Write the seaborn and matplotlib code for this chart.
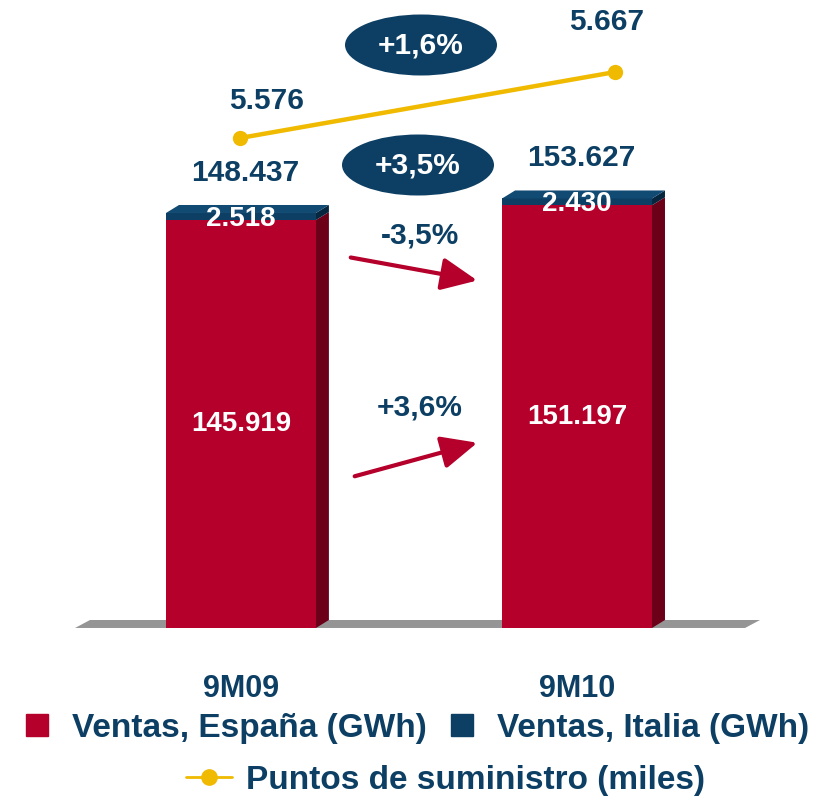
import matplotlib.pyplot as plt
import pandas as pd
import seaborn as sns
from matplotlib.lines import Line2D
from matplotlib.patches import Ellipse, FancyArrowPatch, Polygon

# datos
periodos = ["9M09", "9M10"]
ventas_espana = [145919, 151197]
ventas_italia = [2518, 2430]
ventas_total = [148437, 153627]
puntos_suministro = [5576, 5667]
var_total = "+3,5%"
var_puntos = "+1,6%"
var_italia = "-3,5%"
var_espana = "+3,6%"

ROJO = "#B4002A"
ROJO_OSC = "#6C0018"
AZUL = "#0C3F63"
AZUL_OSC = "#05263E"
AMARILLO = "#F0BA00"
GRIS = "#959595"

W, H = 818, 801

sns.set_style("white")
plt.rcParams["font.family"] = ["Liberation Sans", "DejaVu Sans"]
plt.rcParams["font.weight"] = "bold"


def fpx(x, y):
    """Pixel de la figura -> fraccion de la figura."""
    return x / W, 1 - y / H


def fmt(v):
    return f"{v:,}".replace(",", ".")


df = pd.DataFrame({
    "periodo": periodos,
    "espana": ventas_espana,
    "total": ventas_total,
    "puntos": puntos_suministro,
})

fig = plt.figure(figsize=(W / 100, H / 100), dpi=100)
rect = [0, 173 / H, 1, 600 / H]

# --- barras (GWh) ---
ax = fig.add_axes(rect)
ancho = 0.446
sns.barplot(data=df, x="periodo", y="total", color=AZUL, width=ancho,
            saturation=1, ax=ax, zorder=3, linewidth=0, edgecolor="none")
sns.barplot(data=df, x="periodo", y="espana", color=ROJO, width=ancho,
            saturation=1, ax=ax, zorder=3, linewidth=0, edgecolor="none")
ax.set_xlim(-0.717, 1.717)
ax.set_ylim(0, 214600)
ax.set_xlabel("")
ax.set_ylabel("")
ax.set_yticks([])
ax.set_xticks([0, 1])
ax.set_xticklabels(periodos, fontsize=22, fontweight="bold", color=AZUL)
ax.tick_params(axis="x", length=0, pad=33)
sns.despine(ax=ax, left=True, bottom=True)
ax.patch.set_alpha(0)

# profundidad 3D en unidades de datos
px_x = W / (1.717 + 0.717)
px_y = 600 / 214600
dx, dy = 13 / px_x, 8 / px_y

# suelo
x0, x1 = ax.get_xlim()
fx0, fx1 = x0 + 75 / px_x, x1 - 73 / px_x
ax.add_patch(Polygon(
    [(fx0, 0), (fx1, 0), (fx1 + 15 / px_x, dy), (fx0 + 15 / px_x, dy)],
    closed=True, fc=GRIS, ec="none", zorder=1))
ax.plot([fx0, fx1], [-1.2 / px_y] * 2, color="#D5D5D5", lw=1.5, zorder=1)

for i, (esp, tot) in enumerate(zip(ventas_espana, ventas_total)):
    bx0, bx1 = i - ancho / 2, i + ancho / 2
    # lateral rojo
    ax.add_patch(Polygon([(bx1, 0), (bx1 + dx, dy), (bx1 + dx, esp + dy),
                          (bx1, esp)], fc=ROJO_OSC, ec="none", zorder=2))
    # lateral azul
    ax.add_patch(Polygon([(bx1, esp), (bx1 + dx, esp + dy),
                          (bx1 + dx, tot + dy), (bx1, tot)],
                         fc=AZUL_OSC, ec="none", zorder=2))
    # tapa
    ax.add_patch(Polygon([(bx0, tot), (bx0 + dx, tot + dy),
                          (bx1 + dx, tot + dy), (bx1, tot)],
                         fc="#114A72", ec="none", zorder=4))
    ax.annotate(fmt(tot), (i, tot), xytext=(3, 29), textcoords="offset points",
                ha="center", va="center", fontsize=21.5, color=AZUL,
                fontweight="bold", zorder=5)
    ax.annotate(fmt(ventas_italia[i]), (i, tot), xytext=(0, -4),
                textcoords="offset points", ha="center", va="center",
                fontsize=20, color="white", fontweight="bold", zorder=5)
    ax.text(i, esp / 2, fmt(esp), ha="center", va="center", fontsize=20,
            color="white", fontweight="bold", zorder=5)

# --- linea puntos de suministro ---
ax2 = fig.add_axes(rect)
sns.lineplot(data=df, x="periodo", y="puntos", ax=ax2, color=AMARILLO,
             lw=3.2, marker="o", markersize=11, markeredgewidth=0)
ax2.set_xlim(-0.64, 1.541)
ax2.set_ylim(4900.4, 5727.7)
ax2.axis("off")
offs = [(19, 27), (-6, 36)]
for i, v in enumerate(puntos_suministro):
    ax2.annotate(fmt(v), (i, v), xytext=offs[i], textcoords="offset points",
                 ha="center", va="center", fontsize=21.5, color=AZUL,
                 fontweight="bold")

# --- elipses de variacion ---
for (cx, cy), txt in [((421, 45), var_puntos), ((418, 165), var_total)]:
    fig.patches.append(Ellipse(fpx(cx, cy), 152 / W, 61 / H,
                               transform=fig.transFigure, fc=AZUL, ec="none",
                               zorder=6))
    fig.text(*fpx(cx, cy + 1), txt, ha="center", va="center", fontsize=21.5,
             color="white", fontweight="bold", zorder=7)

# --- flechas ---
for (a, b), (tx, ty), txt in [(((348, 257), (480, 281)), (420, 235), var_italia),
                              (((352, 477), (480, 442)), (420, 408), var_espana)]:
    fig.patches.append(FancyArrowPatch(
        fpx(*a), fpx(*b), transform=fig.transFigure,
        arrowstyle="-|>,head_length=1.1,head_width=0.5", mutation_scale=20,
        color=ROJO, lw=3, zorder=6))
    fig.text(*fpx(tx, ty), txt, ha="center", va="center", fontsize=21.5,
             color=AZUL, fontweight="bold")

# --- leyenda ---
ley_font = dict(size=24, weight="bold")
h_esp = Line2D([], [], marker="s", ls="none", color=ROJO, markersize=16)
h_ita = Line2D([], [], marker="s", ls="none", color=AZUL, markersize=16)
h_pts = Line2D([], [], color=AMARILLO, lw=2, marker="o", markersize=11)
fig.legend([h_esp, h_ita], ["Ventas, España (GWh)", "Ventas, Italia (GWh)"],
           loc="center", bbox_to_anchor=fpx(417, 728), ncol=2, frameon=False,
           prop=ley_font, labelcolor=AZUL, handlelength=0.7,
           handletextpad=0.7, columnspacing=0.7, borderpad=0, borderaxespad=0)
fig.legend([h_pts], ["Puntos de suministro (miles)"], loc="center",
           bbox_to_anchor=fpx(445, 780), frameon=False, prop=ley_font,
           labelcolor=AZUL, handlelength=1.4, handletextpad=0.4,
           borderpad=0, borderaxespad=0)

fig.savefig("out.png", dpi=100)
